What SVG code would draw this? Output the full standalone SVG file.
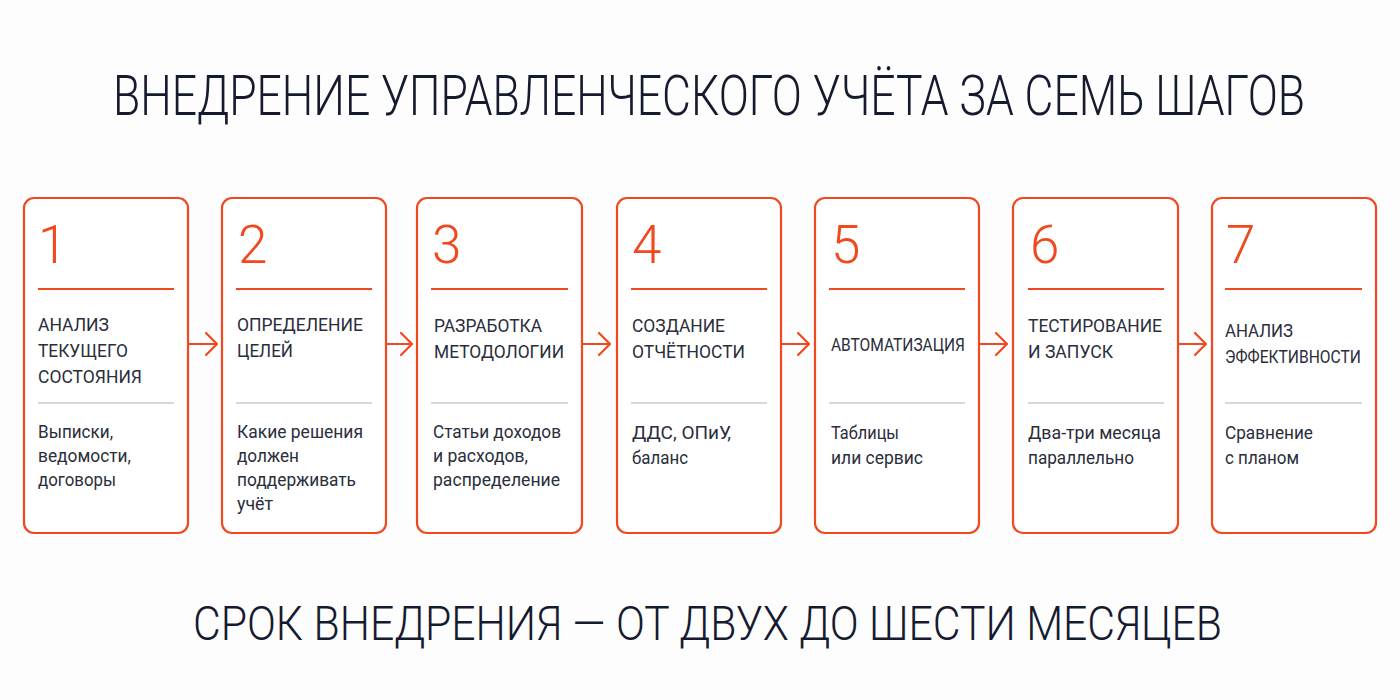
<svg xmlns="http://www.w3.org/2000/svg" width="1400" height="700" viewBox="0 0 1400 700">
<defs>
<style>
.bg{fill:#fdfdfe}
.box{fill:#ffffff;stroke:#f1481f;stroke-width:2.2}
.num{font-family:Roboto,"Liberation Sans",sans-serif;font-weight:300;font-size:53px;fill:#f1481f}
.ol{stroke:#f1481f;stroke-width:2}
.gl{stroke:#c9cad2;stroke-width:1.5}
.hd{font-family:Roboto,"Liberation Sans",sans-serif;font-size:19px;fill:#2a2d3b}
.ds{font-family:Roboto,"Liberation Sans",sans-serif;font-size:18.5px;fill:#2a2d3b}
.title{font-family:Roboto,"Liberation Sans",sans-serif;font-weight:300;fill:#161a2e}
.conn{fill:none;stroke:#f1481f;stroke-width:2.2;stroke-linecap:round;stroke-linejoin:round}
</style>
</defs>
<rect class="bg" x="0" y="0" width="1400" height="700"/>
<text class="title" x="113" y="115" font-size="56" textLength="1192" lengthAdjust="spacingAndGlyphs">ВНЕДРЕНИЕ УПРАВЛЕНЧЕСКОГО УЧЁТА ЗА СЕМЬ ШАГОВ</text>

<g id="connectors">
<path class="conn" d="M188 344 H216 M206 333 L217 344 L206 355"/>
<path class="conn" d="M386 344 H411 M401 333 L412 344 L401 355"/>
<path class="conn" d="M582 344 H609 M599 333 L610 344 L599 355"/>
<path class="conn" d="M781 344 H808 M798 333 L809 344 L798 355"/>
<path class="conn" d="M979 344 H1006 M996 333 L1007 344 L996 355"/>
<path class="conn" d="M1178 344 H1205 M1195 333 L1206 344 L1195 355"/>
</g>

<g id="step1">
<rect class="box" x="24" y="198" width="164" height="335" rx="10"/>
<text class="num" x="38" y="263">1</text>
<line class="ol" x1="38" y1="289" x2="174" y2="289"/>
<text class="hd" x="38" y="331" textLength="71" lengthAdjust="spacingAndGlyphs">АНАЛИЗ</text>
<text class="hd" x="38" y="357" textLength="90" lengthAdjust="spacingAndGlyphs">ТЕКУЩЕГО</text>
<text class="hd" x="38" y="383" textLength="104" lengthAdjust="spacingAndGlyphs">СОСТОЯНИЯ</text>
<line class="gl" x1="38" y1="403" x2="174" y2="403"/>
<text class="ds" x="38" y="438" textLength="75" lengthAdjust="spacingAndGlyphs">Выписки,</text>
<text class="ds" x="38" y="462" textLength="93" lengthAdjust="spacingAndGlyphs">ведомости,</text>
<text class="ds" x="38" y="486" textLength="78" lengthAdjust="spacingAndGlyphs">договоры</text>
</g>

<g id="step2">
<rect class="box" x="222" y="198" width="164" height="335" rx="10"/>
<text class="num" x="238" y="263">2</text>
<line class="ol" x1="236" y1="289" x2="372" y2="289"/>
<text class="hd" x="237" y="331" textLength="126" lengthAdjust="spacingAndGlyphs">ОПРЕДЕЛЕНИЕ</text>
<text class="hd" x="237" y="357" textLength="56" lengthAdjust="spacingAndGlyphs">ЦЕЛЕЙ</text>
<line class="gl" x1="236" y1="403" x2="372" y2="403"/>
<text class="ds" x="237" y="438" textLength="126" lengthAdjust="spacingAndGlyphs">Какие решения</text>
<text class="ds" x="237" y="462" textLength="62" lengthAdjust="spacingAndGlyphs">должен</text>
<text class="ds" x="237" y="486" textLength="119" lengthAdjust="spacingAndGlyphs">поддерживать</text>
<text class="ds" x="237" y="510" textLength="36" lengthAdjust="spacingAndGlyphs">учёт</text>
</g>

<g id="step3">
<rect class="box" x="417" y="198" width="165" height="335" rx="10"/>
<text class="num" x="432" y="263">3</text>
<line class="ol" x1="431" y1="289" x2="568" y2="289"/>
<text class="hd" x="434" y="332" textLength="108" lengthAdjust="spacingAndGlyphs">РАЗРАБОТКА</text>
<text class="hd" x="434" y="358" textLength="130" lengthAdjust="spacingAndGlyphs">МЕТОДОЛОГИИ</text>
<line class="gl" x1="431" y1="403" x2="568" y2="403"/>
<text class="ds" x="433" y="438" textLength="128" lengthAdjust="spacingAndGlyphs">Статьи доходов</text>
<text class="ds" x="433" y="462" textLength="95" lengthAdjust="spacingAndGlyphs">и расходов,</text>
<text class="ds" x="433" y="486" textLength="127" lengthAdjust="spacingAndGlyphs">распределение</text>
</g>

<g id="step4">
<rect class="box" x="617" y="198" width="164" height="335" rx="10"/>
<text class="num" x="632" y="263">4</text>
<line class="ol" x1="631" y1="289" x2="767" y2="289"/>
<text class="hd" x="632" y="332" textLength="93" lengthAdjust="spacingAndGlyphs">СОЗДАНИЕ</text>
<text class="hd" x="632" y="358" textLength="113" lengthAdjust="spacingAndGlyphs">ОТЧЁТНОСТИ</text>
<line class="gl" x1="631" y1="403" x2="767" y2="403"/>
<text class="ds" x="632" y="439" textLength="99" lengthAdjust="spacingAndGlyphs">ДДС, ОПиУ,</text>
<text class="ds" x="632" y="464" textLength="56" lengthAdjust="spacingAndGlyphs">баланс</text>
</g>

<g id="step5">
<rect class="box" x="815" y="198" width="164" height="335" rx="10"/>
<text class="num" x="831" y="263">5</text>
<line class="ol" x1="829" y1="289" x2="965" y2="289"/>
<text class="hd" x="831" y="351" textLength="134" lengthAdjust="spacingAndGlyphs">АВТОМАТИЗАЦИЯ</text>
<line class="gl" x1="829" y1="403" x2="965" y2="403"/>
<text class="ds" x="831" y="439" textLength="68" lengthAdjust="spacingAndGlyphs">Таблицы</text>
<text class="ds" x="831" y="464" textLength="92" lengthAdjust="spacingAndGlyphs">или сервис</text>
</g>

<g id="step6">
<rect class="box" x="1013" y="198" width="165" height="335" rx="10"/>
<text class="num" x="1030" y="263">6</text>
<line class="ol" x1="1028" y1="289" x2="1164" y2="289"/>
<text class="hd" x="1028" y="332" textLength="134" lengthAdjust="spacingAndGlyphs">ТЕСТИРОВАНИЕ</text>
<text class="hd" x="1028" y="358" textLength="85" lengthAdjust="spacingAndGlyphs">И ЗАПУСК</text>
<line class="gl" x1="1028" y1="403" x2="1164" y2="403"/>
<text class="ds" x="1028" y="439" textLength="133" lengthAdjust="spacingAndGlyphs">Два-три месяца</text>
<text class="ds" x="1028" y="464" textLength="106" lengthAdjust="spacingAndGlyphs">параллельно</text>
</g>

<g id="step7">
<rect class="box" x="1212" y="198" width="164" height="335" rx="10"/>
<text class="num" x="1226" y="263">7</text>
<line class="ol" x1="1225" y1="289" x2="1362" y2="289"/>
<text class="hd" x="1225" y="337" textLength="68" lengthAdjust="spacingAndGlyphs">АНАЛИЗ</text>
<text class="hd" x="1225" y="363" textLength="136" lengthAdjust="spacingAndGlyphs">ЭФФЕКТИВНОСТИ</text>
<line class="gl" x1="1225" y1="403" x2="1362" y2="403"/>
<text class="ds" x="1225" y="439" textLength="88" lengthAdjust="spacingAndGlyphs">Сравнение</text>
<text class="ds" x="1225" y="464" textLength="74" lengthAdjust="spacingAndGlyphs">с планом</text>
</g>

<text class="title" x="193" y="640" font-size="49" textLength="1029" lengthAdjust="spacingAndGlyphs">СРОК ВНЕДРЕНИЯ — ОТ ДВУХ ДО ШЕСТИ МЕСЯЦЕВ</text>
</svg>
